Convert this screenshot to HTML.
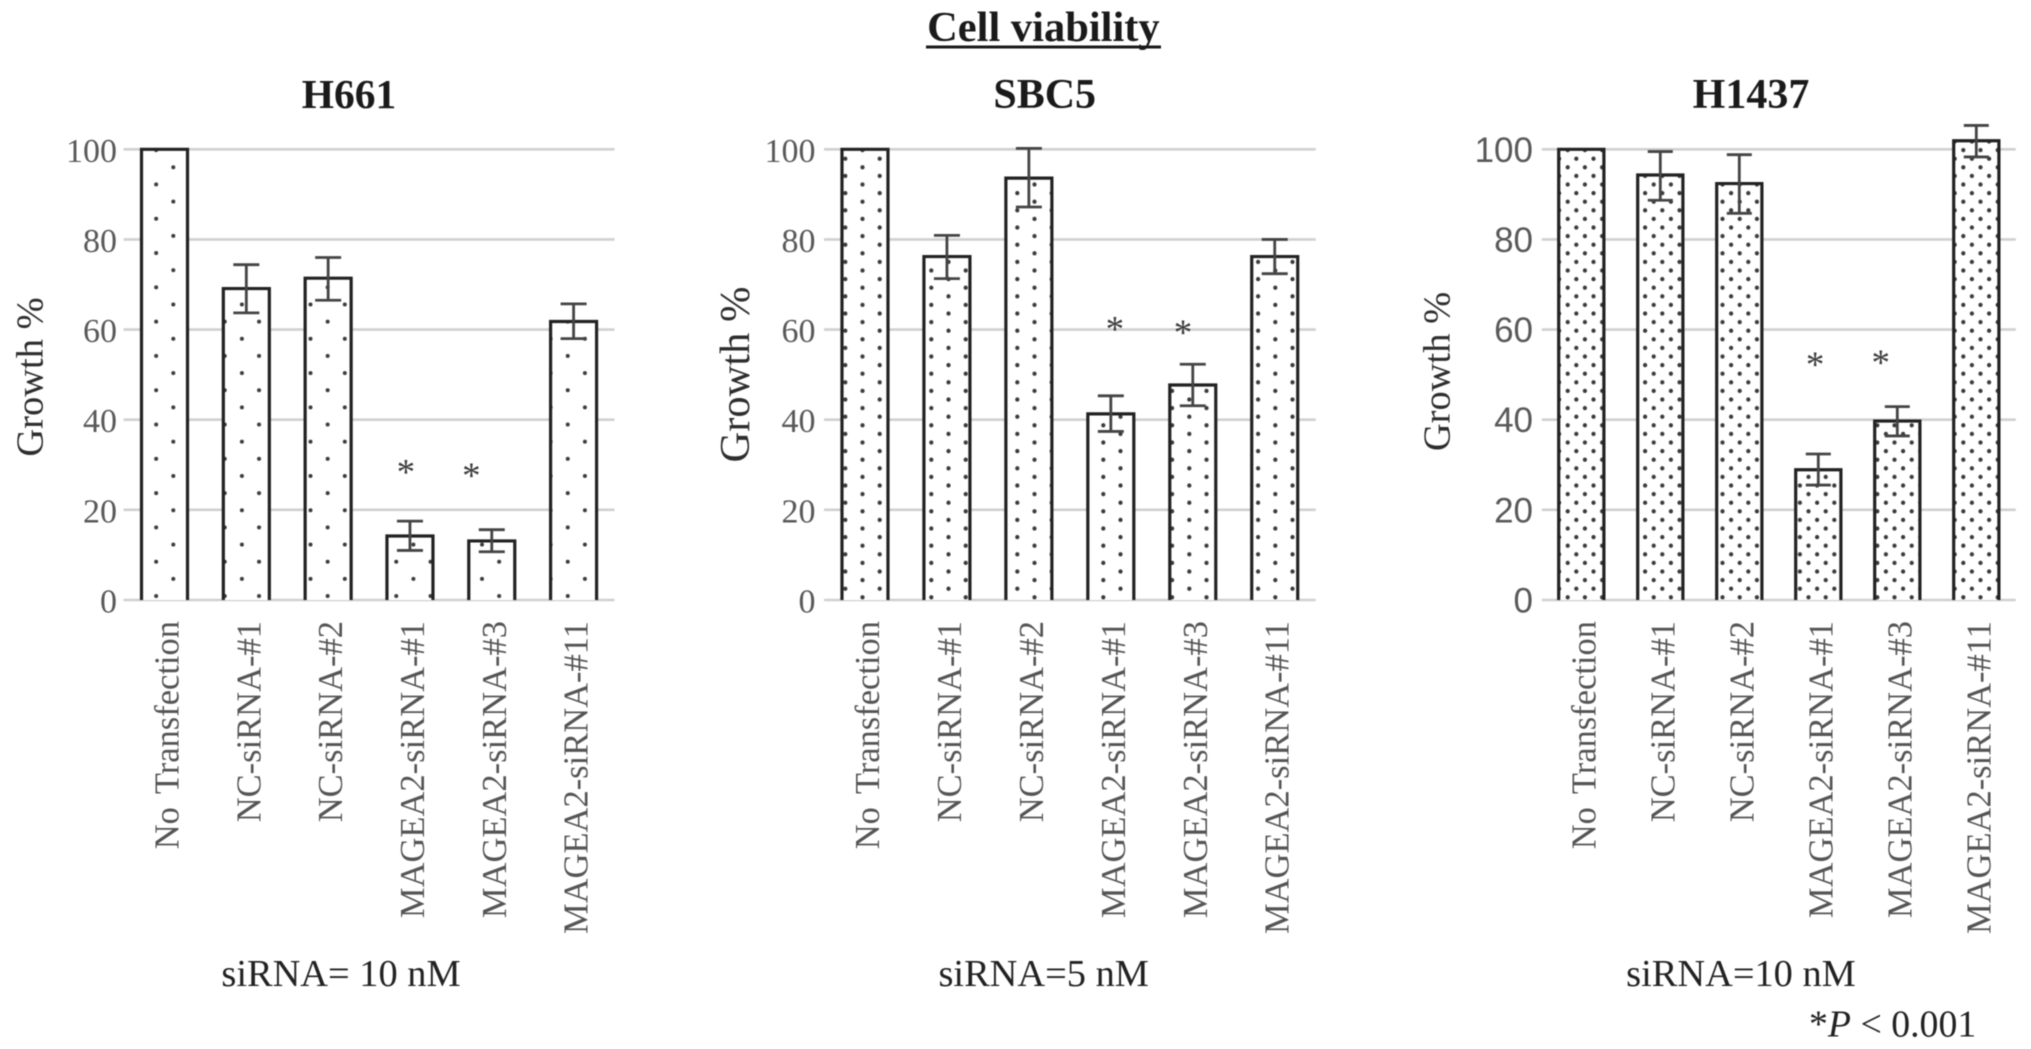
<!DOCTYPE html>
<html lang="en">
<head>
<meta charset="utf-8">
<title>Cell viability</title>
<style>
  html, body { margin: 0; padding: 0; background: #fff; }
  body { width: 2031px; height: 1049px; overflow: hidden; }
  svg { display: block; filter: blur(0.55px); }
  .serif { font-family: "Liberation Serif", serif; }
  .sans { font-family: "Liberation Sans", sans-serif; }
</style>
</head>
<body>
<svg id="figure" xmlns="http://www.w3.org/2000/svg" width="2031" height="1049" viewBox="0 0 2031 1049">
  <defs>
    <pattern id="dots-h661" patternUnits="userSpaceOnUse" x="169.3" y="163.3" width="34.3" height="34.3">
      <circle cx="4" cy="4" r="2" fill="#3a3a3a"></circle>
      <circle cx="21.15" cy="21.15" r="2" fill="#3a3a3a"></circle>
    </pattern>
    <pattern id="dots-sbc5" patternUnits="userSpaceOnUse" x="875.7" y="154.7" width="34.4" height="17.2">
      <circle cx="4" cy="4" r="2.1" fill="#3a3a3a"></circle>
      <circle cx="21.2" cy="12.6" r="2.1" fill="#3a3a3a"></circle>
    </pattern>
    <pattern id="dots-h1437" patternUnits="userSpaceOnUse" x="1572.3" y="154.7" width="17.2" height="17.2">
      <circle cx="4" cy="4" r="2.1" fill="#3a3a3a"></circle>
      <circle cx="12.6" cy="12.6" r="2.1" fill="#3a3a3a"></circle>
    </pattern>
  </defs>
  <rect x="0" y="0" width="2031" height="1049" fill="#fff"></rect>

  <text class="serif" x="1043.4" y="41" font-size="42.5" font-weight="700" text-anchor="middle" fill="#1a1a1a">Cell viability</text>
  <rect x="926" y="45.5" width="235" height="3" fill="#1a1a1a"></rect>

  <text class="serif" x="349" y="108" font-size="41.5" font-weight="700" text-anchor="middle" fill="#1a1a1a">H661</text>
  <text class="serif" x="1044.7" y="108" font-size="42" font-weight="700" text-anchor="middle" fill="#1a1a1a">SBC5</text>
  <text class="serif" x="1751" y="108" font-size="42" font-weight="700" text-anchor="middle" fill="#1a1a1a">H1437</text>

  <text class="serif" transform="translate(42.4 377) rotate(-90)" font-size="38.5" text-anchor="middle" fill="#2e2e2e">Growth %</text>
  <text class="serif" transform="translate(749 374.5) rotate(-90)" font-size="42.5" text-anchor="middle" fill="#2e2e2e">Growth %</text>
  <text class="serif" transform="translate(1449.5 371.5) rotate(-90)" font-size="38.5" text-anchor="middle" fill="#2e2e2e">Growth %</text>

  <text class="serif" x="341" y="986" font-size="38.4" text-anchor="middle" fill="#222">siRNA= 10 nM</text>
  <text class="serif" x="1043.7" y="986" font-size="38.4" text-anchor="middle" fill="#222">siRNA=5 nM</text>
  <text class="serif" x="1741" y="986" font-size="38.4" text-anchor="middle" fill="#222">siRNA=10 nM</text>
  <text class="serif" x="1809" y="1036.5" font-size="37.8" fill="#222">*<tspan font-style="italic">P</tspan> &lt; 0.001</text>

  <g id="charts"></g>
</svg>

<script>
// Shared axis data
const categories = ["No Transfection", "NC-siRNA-#1", "NC-siRNA-#2", "MAGEA2-siRNA-#1", "MAGEA2-siRNA-#3", "MAGEA2-siRNA-#11"];
const tickValues = [0, 20, 40, 60, 80, 100];
const tickLabels = ["0", "20", "40", "60", "80", "100"];

// H661
const h661Values = [100, 69.1, 71.4, 14.2, 13.1, 61.8];
const h661ErrorUpper = [null, 74.4, 76, 17.5, 15.6, 65.7];
const h661ErrorLower = [null, 63.7, 66.5, 11, 10.7, 58];
const h661StarCategories = [2.95, 3.75];
const h661StarValues = [28.7, 28];

// SBC5
const sbc5Values = [100, 76.2, 93.6, 41.3, 47.7, 76.2];
const sbc5ErrorUpper = [null, 80.9, 100.2, 45.3, 52.3, 80];
const sbc5ErrorLower = [null, 71.3, 87.2, 37.4, 43.1, 72.4];
const sbc5StarCategories = [3.05, 3.88];
const sbc5StarValues = [60.5, 59.7];

// H1437
const h1437Values = [100, 94.3, 92.4, 28.9, 39.7, 101.9];
const h1437ErrorUpper = [null, 99.5, 98.8, 32.4, 42.9, 105.3];
const h1437ErrorLower = [null, 88.7, 85.8, 25.5, 36.4, 98.3];
const h1437StarCategories = [2.96, 3.79];
const h1437StarValues = [52.6, 53];

const SVG_NS = "http://www.w3.org/2000/svg";
const yTop = 149.3;
const yBottom = 600;

function yScale(value) {
  return yBottom - (value / 100) * (yBottom - yTop);
}

function make(parent, tag, attrs, text) {
  const node = document.createElementNS(SVG_NS, tag);
  Object.keys(attrs).forEach(function (key) { node.setAttribute(key, attrs[key]); });
  if (text !== undefined) node.textContent = text;
  parent.appendChild(node);
  return node;
}

function drawChart(root, cfg) {
  const band = (cfg.right - cfg.left) / categories.length;
  const xScale = function (index) { return cfg.left + band * (index + 0.5); };

  const chart = make(root, "g", {});
  
  

  tickValues.forEach(function (tick, i) {
    const line = make(chart, "line", {
      x1: cfg.left, x2: cfg.right, y1: yScale(tick), y2: yScale(tick),
      stroke: "#d0d0d0", "stroke-width": 2.6
    });
    
    

    const label = make(chart, "text", {
      x: cfg.tickX, y: yScale(tick) + cfg.tickDy, "text-anchor": "end",
      "font-size": cfg.tickSize, fill: "#595959", "class": cfg.tickClass
    }, tickLabels[i]);
    
    
  });

  categories.forEach(function (category, i) {
    const cx = xScale(i);
    const x0 = cx - cfg.barWidth / 2;
    const x1 = cx + cfg.barWidth / 2;
    const top = yScale(cfg.values[i]);

    const fill = make(chart, "rect", {
      x: x0, y: top, width: cfg.barWidth, height: yBottom - top, fill: "#fff"
    });
    
    

    const dots = make(chart, "rect", {
      x: x0, y: top, width: cfg.barWidth, height: yBottom - top, fill: "url(#" + cfg.pattern + ")"
    });
    
    

    const outline = make(chart, "path", {
      d: "M" + x0 + " " + yBottom + "V" + top + "H" + x1 + "V" + yBottom,
      fill: "none", stroke: "#222", "stroke-width": 3.2
    });
    
    

    if (cfg.upper[i] !== null) {
      const hi = yScale(cfg.upper[i]);
      const lo = yScale(cfg.lower[i]);
      const error = make(chart, "path", {
        d: "M" + cx + " " + hi + "V" + lo +
           "M" + (cx - cfg.capWidth / 2) + " " + hi + "H" + (cx + cfg.capWidth / 2) +
           "M" + (cx - cfg.capWidth / 2) + " " + lo + "H" + (cx + cfg.capWidth / 2),
        fill: "none", stroke: "#444", "stroke-width": 2.8
      });
      
      
    }

    const axisLabel = make(chart, "text", {
      transform: "translate(" + (cx + 14) + " 621) rotate(-90)",
      "text-anchor": "end", "font-size": 34.5, "word-spacing": 5,
      fill: "#555", "class": "serif"
    }, category);
    
    
  });

  cfg.starCategories.forEach(function (position, i) {
    const star = make(chart, "text", {
      x: xScale(position), y: yScale(cfg.starValues[i]) + 14,
      "text-anchor": "middle", "font-size": 37, fill: "#3c3c3c", "class": "serif"
    }, "*");
    
    
  });
}

const chartsRoot = document.getElementById("charts");

drawChart(chartsRoot, {
  name: "h661", pattern: "dots-h661",
  left: 123.6, right: 614.5, barWidth: 46, capWidth: 26,
  tickX: 117, tickDy: 12.5, tickSize: 34, tickClass: "serif",
  values: h661Values, upper: h661ErrorUpper, lower: h661ErrorLower,
  starCategories: h661StarCategories, starValues: h661StarValues
});

drawChart(chartsRoot, {
  name: "sbc5", pattern: "dots-sbc5",
  left: 824, right: 1315.7, barWidth: 46, capWidth: 26,
  tickX: 815.5, tickDy: 12.5, tickSize: 34, tickClass: "serif",
  values: sbc5Values, upper: sbc5ErrorUpper, lower: sbc5ErrorLower,
  starCategories: sbc5StarCategories, starValues: sbc5StarValues
});

drawChart(chartsRoot, {
  name: "h1437", pattern: "dots-h1437",
  left: 1541.8, right: 2015.8, barWidth: 45.2, capWidth: 25,
  tickX: 1533, tickDy: 12.5, tickSize: 35, tickClass: "sans",
  values: h1437Values, upper: h1437ErrorUpper, lower: h1437ErrorLower,
  starCategories: h1437StarCategories, starValues: h1437StarValues
});
</script>
</body>
</html>
